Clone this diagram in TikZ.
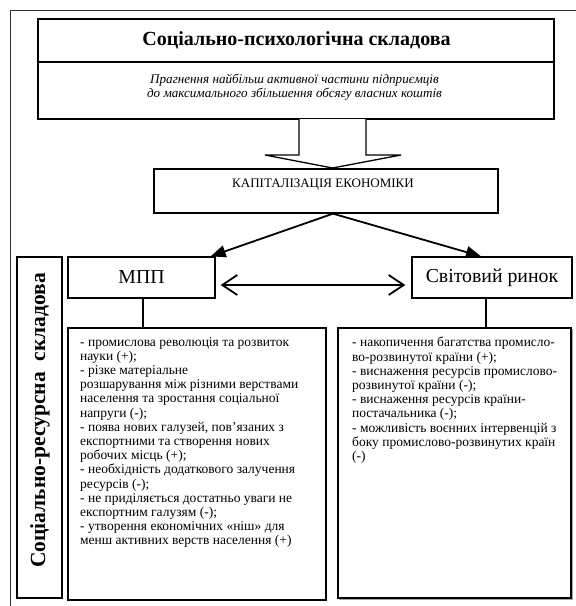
\documentclass[tikz,border=0pt]{standalone}
\usepackage{fontspec}
\setmainfont{Liberation Serif}
\usetikzlibrary{arrows.meta}
\begin{document}
\begin{tikzpicture}[x=1pt,y=-1pt,
  boxx/.style={draw, line width=1.3pt, fill=white, inner sep=0pt, minimum width=#1},
  txt/.style={inner sep=0pt, anchor=center},
  listtxt/.style={inner sep=0pt, anchor=north west, align=left, font=\fontsize{13.5}{14.2}\selectfont},
  fatarrow/.style={line width=1.8pt, -{Triangle[length=15pt,width=12pt]}},
  dblarrow/.style={line width=1.8pt, {Straight Barb[length=15pt,width=20pt]}-{Straight Barb[length=15pt,width=20pt]}},
  conn/.style={line width=1.3pt}
]
\useasboundingbox (0,0) rectangle (576,606);
% outer frame (partly visible)
\draw[black!80, line width=1pt] (10,606) -- (10,10) -- (576,10);

% top block
\node[boxx=516pt, minimum height=43pt] (topT) at (296,40.5) {};
\node[boxx=516pt, minimum height=57pt] (topS) at (296,90.5) {};
\node[txt, font=\fontsize{20}{22}\selectfont\bfseries] (title) at (296.5,40.5) {Соціально-психологічна складова};
\node[txt, align=center, font=\fontsize{13.1}{14}\selectfont\itshape] (sub) at (294.5,87.5) {Прагнення найбільш активної частини підприємців\\до максимального збільшення обсягу власних коштів};

% hollow arrow
\draw[line width=1.3pt, fill=white] (299,119) -- (299,155) -- (265,155) -- (332.5,168) -- (401,155) -- (366,155) -- (366,119);

% capitalization box
\node[boxx=344pt, minimum height=44pt] (cap) at (326,191) {};
\node[txt, font=\fontsize{13}{15}\selectfont] (captxt) at (323,185) {КАПІТАЛІЗАЦІЯ ЕКОНОМІКИ};

% MPP and world market
\node[boxx=147pt, minimum height=41pt, font=\fontsize{19.8}{22}\selectfont] (mpp) at (141.5,277.5) {МПП};
\node[boxx=160pt, minimum height=41pt, font=\fontsize{19.8}{22}\selectfont] (svit) at (492,277.5) {Світовий ринок};

\draw[fatarrow] ([xshift=7pt]cap.south) -- ([xshift=-5pt]mpp.north east);
\draw[fatarrow] ([xshift=7pt]cap.south) -- ([xshift=-11pt]svit.north);
\draw[dblarrow] ([xshift=5pt,yshift=-7.5pt]mpp.east) -- ([xshift=-6pt,yshift=-7.5pt]svit.west);

% side label
\node[boxx=45pt, minimum height=341pt] (side) at (39.5,427.5) {};
\node[txt, rotate=90, font=\fontsize{21.5}{24}\selectfont\bfseries] (sidetxt) at (40,420.5) {Соціально-ресурсна\ \ складова};

% list boxes
\node[boxx=258pt, minimum height=272pt] (lbox) at (197,464) {};
\draw[black!35, line width=1pt] (572.5,329) -- (572.5,599.5) -- (339,599.5);
\node[boxx=233pt, minimum height=270pt] (rbox) at (454.5,463) {};

\draw[conn] ([xshift=1.5pt]mpp.south) -- ([xshift=1.5pt]mpp.south |- lbox.north);
\draw[conn] ([xshift=-6pt]svit.south) -- ([xshift=-6pt]svit.south |- rbox.north);

\node[listtxt] (ltxt) at (80,337) {- промислова революція та розвиток\\
науки (+);\\
- різке матеріальне\\
розшарування між різними верствами\\
населення та зростання соціальної\\
напруги (-);\\
- поява нових галузей, пов’язаних з\\
експортними та створення нових\\
робочих місць (+);\\
- необхідність додаткового залучення\\
ресурсів (-);\\
- не приділяється достатньо уваги не\\
експортним галузям (-);\\
- утворення економічних «ніш» для\\
менш активних верств населення (+)};

\node[listtxt] (rtxt) at (352,337) {- накопичення багатства промисло-\\
во-розвинутої країни (+);\\
- виснаження ресурсів промислово-\\
розвинутої країни (-);\\
- виснаження ресурсів країни-\\
постачальника (-);\\
- можливість воєнних інтервенцій з\\
боку промислово-розвинутих країн\\
(-)};
\end{tikzpicture}
\end{document}
